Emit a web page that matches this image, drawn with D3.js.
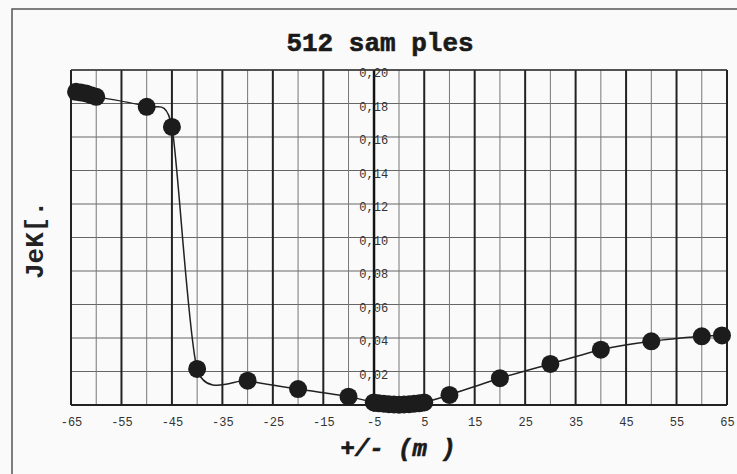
<!DOCTYPE html>
<meta charset="utf-8">
<head>
  <title>512 samples</title>
</head>

<style>
  body { margin: 0; background: #fafafa; }
  svg { display: block; }
  .tick text { font-family: "Liberation Mono", monospace; fill: #333; }
</style>

<body>
  <svg width="737" height="474"></svg>

  <script src="https://cdnjs.cloudflare.com/ajax/libs/d3/7.8.5/d3.min.js"></script>

  <script>
  // shifts (+/- m) and the Je measure
  var shifts = [-64, -63, -62, -61, -60, -50, -45, -40, -30, -20, -10,
                -5, -4, -3, -2, -1, 0, 1, 2, 3, 4, 5,
                10, 20, 30, 40, 50, 60, 64];
  var jek = [0.187, 0.1865, 0.186, 0.185, 0.184, 0.178, 0.166, 0.0215, 0.0145, 0.0095, 0.005,
             0.0015, 0.001, 0.0008, 0.0005, 0.0003, 0.0002, 0.0003, 0.0005, 0.0008, 0.001, 0.0015,
             0.006, 0.016, 0.0245, 0.033, 0.038, 0.041, 0.0415];

  var xTicks = [-65, -55, -45, -35, -25, -15, -5, 5, 15, 25, 35, 45, 55, 65];
  var yTicks = [0, 0.02, 0.04, 0.06, 0.08, 0.10, 0.12, 0.14, 0.16, 0.18, 0.20];
  var title = "512 sam ples";
  var xTitle = "+/- (m )";
  var yTitle = "JeK[.";

  var svg = d3.select("svg");

  var x = d3.scaleLinear().domain([-65, 65]).range([71, 727]);
  var y = d3.scaleLinear().domain([0, 0.2]).range([405, 70]);

  // outer frame of the figure
  svg.append("rect")
    .attr("x", 12).attr("y", 9)
    .attr("width", 740).attr("height", 480)
    .attr("fill", "none").attr("stroke", "#555").attr("stroke-width", 1.5);

  // horizontal grid
  svg.append("g").selectAll("line")
    .data(yTicks)
    .enter().append("line")
    .attr("x1", x(-65)).attr("x2", x(65))
    .attr("y1", function(d) { return y(d); })
    .attr("y2", function(d) { return y(d); })
    .attr("stroke", "#666")
    .attr("stroke-width", 1);

  // vertical grid, every 5, heavier at the labelled ones
  var vgrid = d3.range(-65, 66, 5);
  svg.append("g").selectAll("line")
    .data(vgrid)
    .enter().append("line")
    .attr("x1", function(d) { return x(d); })
    .attr("x2", function(d) { return x(d); })
    .attr("y1", y(0.2)).attr("y2", y(0))
    .attr("stroke", function(d) { return (d + 65) % 10 === 0 ? "#222" : "#777"; })
    .attr("stroke-width", function(d) { return (d + 65) % 10 === 0 ? 2 : 1; });

  // top and bottom borders
  svg.append("line")
    .attr("x1", x(-65)).attr("x2", x(65))
    .attr("y1", y(0.2)).attr("y2", y(0.2))
    .attr("stroke", "#333").attr("stroke-width", 1.5);
  svg.append("line")
    .attr("x1", x(-65)).attr("x2", x(65))
    .attr("y1", y(0)).attr("y2", y(0))
    .attr("stroke", "#222").attr("stroke-width", 2);

  // x axis labels
  var xAxis = d3.axisBottom(x).tickValues(xTicks).tickSize(0).tickPadding(12)
    .tickFormat(function(d) { return d; });
  svg.append("g")
    .attr("transform", "translate(0," + y(0) + ")")
    .call(xAxis)
    .call(function(g) { g.select(".domain").remove(); })
    .selectAll("text").attr("font-size", 12);

  // y axis sits on the -5 line, labels centred over it
  var yAxis = d3.axisLeft(y).tickValues(yTicks).tickSize(0)
    .tickFormat(function(d) { return d === 0 ? "0" : d3.format(".2f")(d).replace(".", ","); });
  var ya = svg.append("g")
    .attr("transform", "translate(" + x(-5) + ",0)")
    .call(yAxis);
  ya.select(".domain").attr("stroke", "#111").attr("stroke-width", 2);
  ya.selectAll("text")
    .attr("x", 0)
    .attr("dy", "0.55em")
    .attr("text-anchor", "middle")
    .attr("font-size", 12);

  // smoothed line through the samples
  var pts = shifts.map(function(s, i) { return [s, jek[i]]; });
  var line = d3.line()
    .x(function(d) { return x(d[0]); })
    .y(function(d) { return y(d[1]); })
    .curve(d3.curveCardinal.tension(0.3));

  svg.append("path")
    .datum(pts)
    .attr("d", line)
    .attr("fill", "none")
    .attr("stroke", "#222")
    .attr("stroke-width", 1.5);

  svg.append("g").selectAll("circle")
    .data(pts)
    .enter().append("circle")
    .attr("cx", function(d) { return x(d[0]); })
    .attr("cy", function(d) { return y(d[1]); })
    .attr("r", 9)
    .attr("fill", "#1c1c1c");

  // titles
  svg.append("text")
    .attr("x", 380).attr("y", 51)
    .attr("text-anchor", "middle")
    .attr("font-family", "Liberation Mono, monospace")
    .attr("font-weight", "bold")
    .attr("font-size", 26)
    .attr("fill", "#1a1a1a")
    .attr("stroke", "#1a1a1a")
    .attr("stroke-width", 0.6)
    .text(title);

  svg.append("text")
    .attr("x", 398).attr("y", 456)
    .attr("text-anchor", "middle")
    .attr("font-family", "Liberation Mono, monospace")
    .attr("font-weight", "bold")
    .attr("font-style", "italic")
    .attr("font-size", 24)
    .attr("fill", "#1a1a1a")
    .attr("stroke", "#1a1a1a")
    .attr("stroke-width", 0.6)
    .text(xTitle);

  svg.append("text")
    .attr("transform", "translate(43,240) rotate(-90)")
    .attr("text-anchor", "middle")
    .attr("font-family", "Liberation Mono, monospace")
    .attr("font-weight", "bold")
    .attr("font-size", 26)
    .attr("fill", "#222")
    .text(yTitle);
  </script>
</body>
</html>
